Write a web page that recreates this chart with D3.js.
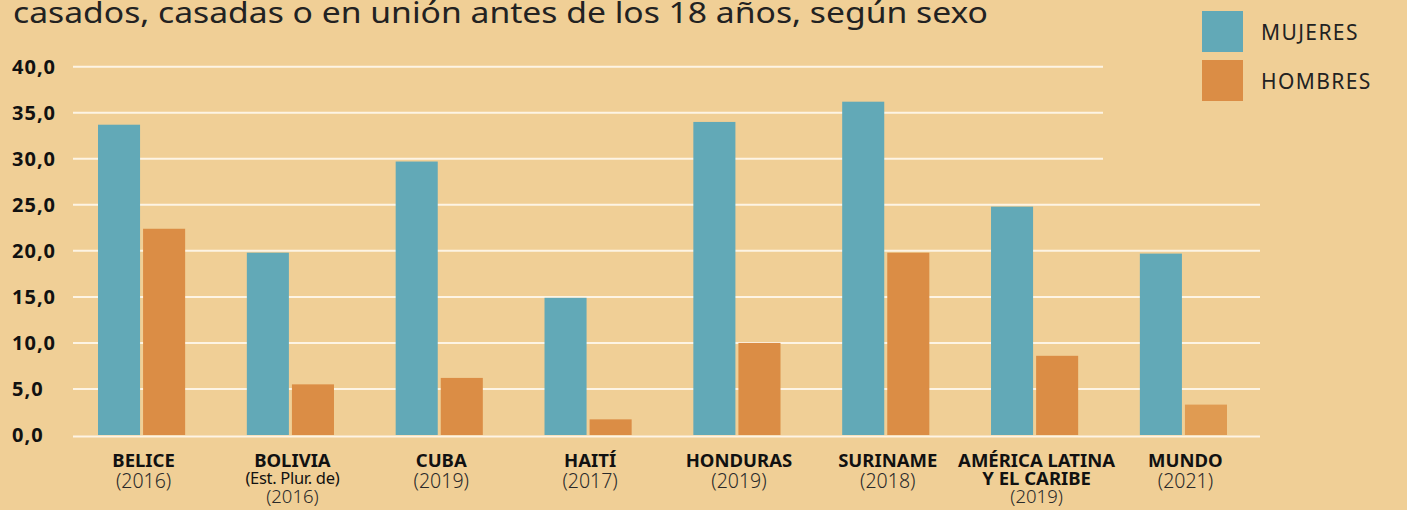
<!DOCTYPE html>
<html>
<head>
<meta charset="utf-8">
<script src="https://cdn.jsdelivr.net/npm/d3@7"></script>
<style>
  html, body { margin: 0; padding: 0; background: #f0cf96; }
  svg { display: block; }
</style>
</head>
<body>
<div id="chart"></div>
<script>
// datos
var paises = ["BELICE", "BOLIVIA", "CUBA", "HAITÍ", "HONDURAS", "SURINAME", "AMÉRICA LATINA", "MUNDO"];
var segundaLinea = ["", "", "", "", "", "", "Y EL CARIBE", ""];
var notas = ["", "(Est. Plur. de)", "", "", "", "", "", ""];
var anios = ["(2016)", "(2016)", "(2019)", "(2017)", "(2019)", "(2018)", "(2019)", "(2021)"];
var series = ["MUJERES", "HOMBRES"];
var mujeres = [33.7, 19.8, 29.7, 14.9, 34.0, 36.2, 24.8, 19.7];
var hombres = [22.4, 5.5, 6.2, 1.7, 10.0, 19.8, 8.6, 3.3];
var yTicks = [0, 5, 10, 15, 20, 25, 30, 35, 40];
var titulo = "casados, casadas o en unión antes de los 18 años, según sexo";

var width = 1407, height = 510;
var colores = { "MUJERES": "#62a9b7", "HOMBRES": "#db8d45" };

var svg = d3.select("#chart")
            .append("svg")
            .attr("width", width)
            .attr("height", height);

svg.append("rect")
    .attr("width", width)
    .attr("height", height)
    .attr("fill", "#f0cf96");

// titulo (cortado arriba como en el original)
svg.append("text")
    .attr("x", 13)
    .attr("y", 23)
    .attr("textLength", 975)
    .attr("lengthAdjust", "spacingAndGlyphs")
    .style("font-family", "'Noto Sans', sans-serif")
    .style("font-size", "29px")
    .style("fill", "#222")
    .text(titulo);

var y = d3.scaleLinear().domain([0, 40]).range([435, 66.7]);

var x = d3.scaleBand()
            .domain(paises)
            .range([98, 1227])
            .paddingInner(0.4145)
            .paddingOuter(0);

var xSub = d3.scaleBand()
            .domain(series)
            .range([0, x.bandwidth()])
            .paddingInner(0.067);

// lineas de la grilla
svg.append("g").selectAll("line")
    .data(yTicks)
  .enter()
    .append("line")
    .attr("x1", 73)
    .attr("x2", function(d) { return d >= 30 ? 1103 : 1260; })
    .attr("y1", function(d) { return d === 0 ? y(d) + 1.5 : y(d); })
    .attr("y2", function(d) { return d === 0 ? y(d) + 1.5 : y(d); })
    .style("stroke", "#fdf4e4")
    .style("stroke-width", 2);

// etiquetas eje y
svg.append("g").selectAll("text")
    .data(yTicks)
  .enter()
    .append("text")
    .attr("x", 12)
    .attr("y", function(d) { return y(d); })
    .attr("dy", "0.36em")
    .style("font-family", "'Noto Sans', sans-serif")
    .style("font-weight", "bold")
    .style("font-size", "20px")
    .style("letter-spacing", "1px")
    .style("fill", "#111")
    .text(function(d) { return d3.format(".1f")(d).replace(".", ","); });

// barras
var filas = paises.map(function(p, i) {
    return { pais: p, i: i, valores: [
        { serie: "MUJERES", valor: mujeres[i] },
        { serie: "HOMBRES", valor: hombres[i] }
    ]};
});

var grupos = svg.append("g").selectAll("g")
    .data(filas)
  .enter()
    .append("g")
    .attr("transform", function(d) { return "translate(" + x(d.pais) + ",0)"; });

grupos.selectAll("rect")
    .data(function(d) { return d.valores.map(function(v) { v.pais = d.pais; return v; }); })
  .enter()
    .append("rect")
    .attr("x", function(d) { return xSub(d.serie); })
    .attr("y", function(d) { return y(d.valor); })
    .attr("width", xSub.bandwidth())
    .attr("height", function(d) { return y(0) - y(d.valor); })
    .style("fill", function(d) {
        if (d.pais === "MUNDO" && d.serie === "HOMBRES") return "#e09b52";
        return colores[d.serie];
    });

// etiquetas eje x
var etiquetas = svg.append("g").selectAll("g")
    .data(filas)
  .enter()
    .append("g")
    .attr("transform", function(d) { return "translate(" + (x(d.pais) + x.bandwidth() / 2 + 2) + ",0)"; })
    .style("font-family", "'Noto Sans', sans-serif")
    .style("fill", "#111")
    .attr("text-anchor", "middle");

etiquetas.append("text")
    .attr("y", 467)
    .style("font-weight", "bold")
    .style("font-size", "18.5px")
    .text(function(d) { return d.pais; });

etiquetas.filter(function(d) { return segundaLinea[d.i] !== ""; })
    .append("text")
    .attr("y", 485)
    .style("font-weight", "bold")
    .style("font-size", "18.5px")
    .text(function(d) { return segundaLinea[d.i]; });

etiquetas.filter(function(d) { return notas[d.i] !== ""; })
    .append("text")
    .attr("y", 484)
    .style("font-size", "16.5px")
    .style("letter-spacing", "-0.3px")
    .text(function(d) { return notas[d.i]; });

etiquetas.append("text")
    .attr("y", function(d) { return (notas[d.i] !== "" || segundaLinea[d.i] !== "") ? 503 : 488; })
    .style("font-size", function(d) { return (notas[d.i] !== "" || segundaLinea[d.i] !== "") ? "18.5px" : "19.5px"; })
    .style("font-weight", "300")
    .style("fill", "#2a2a2a")
    .text(function(d) { return anios[d.i]; });

// leyenda
var leyenda = svg.append("g").selectAll("g")
    .data(series)
  .enter()
    .append("g")
    .attr("transform", function(d, i) { return "translate(1202," + (11 + i * 49) + ")"; });

leyenda.append("rect")
    .attr("width", 41)
    .attr("height", 41)
    .style("fill", function(d) { return colores[d]; });

leyenda.append("text")
    .attr("x", 59)
    .attr("y", 21)
    .attr("dy", "0.36em")
    .style("font-family", "'Noto Sans', sans-serif")
    .style("font-size", "21px")
    .style("letter-spacing", "1.4px")
    .style("fill", "#222")
    .text(function(d) { return d; });
</script>
</body>
</html>
